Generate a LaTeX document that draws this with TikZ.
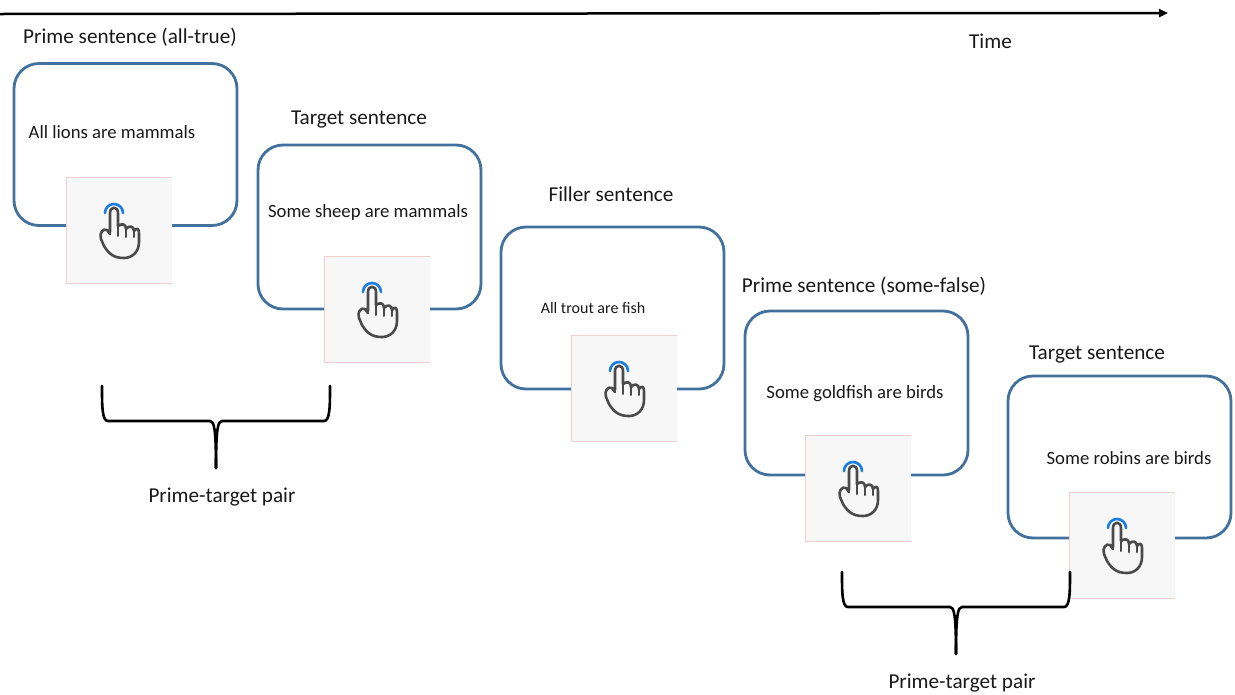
\documentclass[tikz,border=0pt]{standalone}
\usepackage{fontspec}
\setmainfont{Carlito}
\usetikzlibrary{arrows.meta}
\definecolor{boxblue}{HTML}{41719C}
\definecolor{tilegrey}{HTML}{F7F7F7}
\definecolor{tilered}{HTML}{F0CFCF}
\definecolor{handgrey}{HTML}{4A4A4A}
\definecolor{tapblue}{HTML}{1A7FE0}
\tikzset{
  x=1pt,y=-1pt,
  slide/.style={draw=boxblue,line width=2.8pt,rounded corners=25pt,fill=white,minimum width=223pt,minimum height=162pt,inner sep=0pt},
  tile/.style={fill=tilegrey,minimum width=106pt,minimum height=106pt,inner sep=0pt},
  head/.style={font=\fontsize{21.2}{23}\selectfont,inner sep=0pt,text=black!90},
  sent/.style={font=\fontsize{18.7}{20}\selectfont,inner sep=0pt,text=black!90},
  bracketline/.style={line width=2.6pt,black,line cap=round},
  pics/tap/.style={code={
    \draw[tilered,line width=.7pt] (-53,53) -- (-53,-53) -- (53,-53);
    \draw[tilered,line width=.3pt] (-53,53) -- (53,53);
    \draw[tapblue,line width=2.6pt,line cap=round] (-14,-17) arc[start angle=180,end angle=360,radius=9];
    \draw[handgrey,line width=2.6pt,line cap=round,line join=round]
      (-9,2) -- (-9,-17) .. controls (-9,-24) and (-1,-24) .. (-1,-17)
      -- (-1,-5) -- (-1,-4)
      .. controls (3,-7) and (7,-6) .. (7,-1)
      .. controls (10,-5) and (15,-4) .. (15,1)
      .. controls (18,-3) and (20,-1) .. (20,3)
      -- (20,12)
      .. controls (20,22) and (13,28) .. (5,28)
      .. controls (-5,28) and (-10,24) .. (-15,16)
      -- (-18,9)
      .. controls (-20,3) and (-16,-2) .. (-12,0)
      -- (-9,4);
    \draw[handgrey,line width=2pt,line cap=round]
      (-1,-4) -- (-1,6) (7,-1) -- (7,7) (15,1) -- (15,7);
  }},
  pics/pairbrace/.style={code={
    \draw[bracketline] (0,0) .. controls (0,20) and (0,35) .. (6,35)
      -- (108,35) .. controls (112,35) and (114,42) .. (114,82);
    \draw[bracketline] (228,0) .. controls (228,20) and (228,35) .. (222,35)
      -- (120,35) .. controls (116,35) and (114,42) .. (114,82);
  }}
}
\begin{document}
\begin{tikzpicture}
\useasboundingbox (0,0) rectangle (1235,694);
\coordinate (timeL) at (0,14);
\coordinate (timeR) at (1168,13);
\draw[line width=2.5pt,-{Triangle[length=9pt,width=8pt]}] (timeL) -- (timeR);
\node[head] (time) at (990.5,41) {Time};

\node[slide] (b1) at (125.5,144.5) {};
\node[slide,minimum height=164pt] (b2) at (369.5,227) {};
\node[slide] (b3) at (612.5,308) {};
\node[slide,minimum height=164pt] (b4) at (856.5,393) {};
\node[slide] (b5) at (1119.5,457) {};

\node[tile] (t1) at (119,230) {};
\node[tile] (t2) at (377,309) {};
\node[tile] (t3) at (624,388) {};
\node[tile] (t4) at (858,488) {};
\node[tile] (t5) at (1122,545) {};
\foreach \t in {t1,t2,t3,t4,t5} \pic at (\t) {tap};

\node[head] (h1) at (130,37) {Prime sentence (all-true)};
\node[head] (h2) at (359,120) {Target sentence};
\node[head] (h3) at (611,194) {Filler sentence};
\node[head] (h4) at (864,286) {Prime sentence (some-false)};
\node[head] (h5) at (1097,355) {Target sentence};

\node[sent] (s1) at (112,132) {All lions are mammals};
\node[sent] (s2) at (368,212.5) {Some sheep are mammals};
\node[sent,font=\fontsize{16}{18}\selectfont] (s3) at (593,308) {All trout are fish};
\node[sent] (s4) at (855,393.5) {Some goldfish are birds};
\node[sent] (s5) at (1129,458) {Some robins are birds};

\pic at (102,386) {pairbrace};
\pic at (842,572) {pairbrace};
\node[head] (p1) at (222,497) {Prime-target pair};
\node[head] (p2) at (962,683) {Prime-target pair};
\end{tikzpicture}
\end{document}
